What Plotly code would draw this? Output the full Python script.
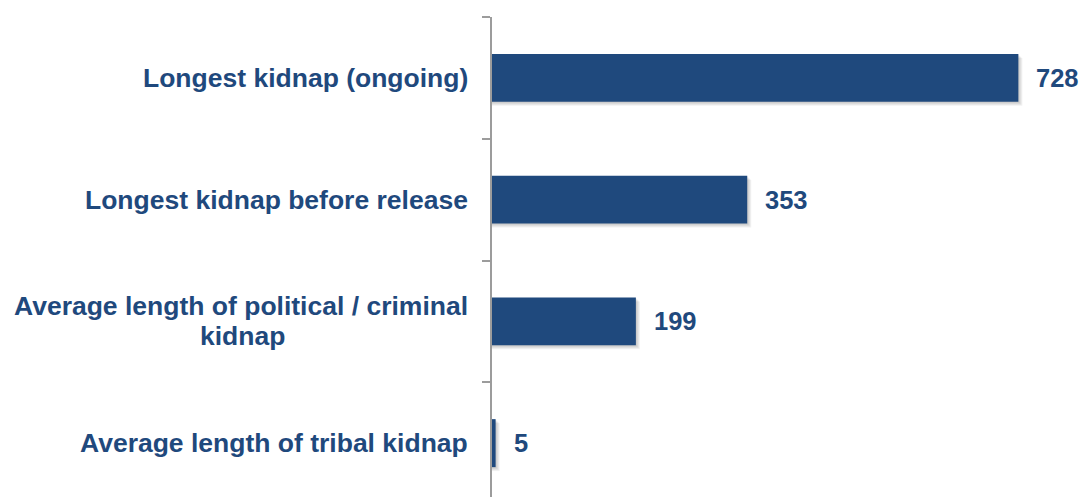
import plotly.graph_objects as go

# Kidnap durations (days), listed top to bottom
categories = [
    "Longest kidnap (ongoing)",
    "Longest kidnap before release",
    "Average length of political / criminal kidnap",
    "Average length of tribal kidnap",
]
label_lines = [
    ["Longest kidnap (ongoing)"],
    ["Longest kidnap before release"],
    ["Average length of political / criminal", "kidnap"],
    ["Average length of tribal kidnap"],
]
days = [728, 353, 199, 5]

BLUE = "#1F497D"
GREY = "#9C9C9C"
FONT = "Liberation Sans"

W, H = 1082, 497
ML, MT = 492, 17
X_MAX = 816
Y_RANGE = [-0.4425, 3.5]
BAR_W = 0.394

plot_w = W - ML
px_per_unit = plot_w / X_MAX
cat_px = (H - MT) / (Y_RANGE[1] - Y_RANGE[0])

fig = go.Figure()

# soft drop shadow under each bar (a few faint layers, shifted down/right)
for k in (1, 2, 3, 4):
    fig.add_trace(go.Bar(
        y=categories, x=[v + k / px_per_unit for v in days],
        orientation="h", width=BAR_W,
        offset=-BAR_W / 2 - k / cat_px,
        marker=dict(color="rgba(0,0,0,0.055)", line=dict(width=0)),
        hoverinfo="skip", showlegend=False,
    ))

fig.add_trace(go.Bar(
    y=categories, x=days, orientation="h", width=BAR_W,
    offset=-BAR_W / 2,
    marker=dict(color=BLUE, line=dict(width=0)),
    showlegend=False,
))

annotations = []
# value labels just past each bar end
for cat, v in zip(categories, days):
    annotations.append(dict(
        x=v, y=cat, xref="x", yref="y", text=str(v), showarrow=False,
        xanchor="left", yanchor="middle", xshift=16,
        font=dict(family=FONT, size=25.5, color=BLUE, weight="bold"),
    ))

# category labels to the left of the axis
LABEL_GAP = -22
label_font = dict(family=FONT, size=26.5, color=BLUE, weight="bold")
for cat, lines in zip(categories, label_lines):
    if len(lines) == 1:
        annotations.append(dict(
            x=0, y=cat, xref="x", yref="y", text=lines[0], showarrow=False,
            xanchor="right", yanchor="middle", xshift=LABEL_GAP,
            font=label_font,
        ))
    else:
        # two stacked lines, second one centred under the first
        annotations.append(dict(
            x=0, y=cat, xref="x", yref="y", text=lines[0], showarrow=False,
            xanchor="right", yanchor="middle", xshift=LABEL_GAP, yshift=15,
            font=label_font,
        ))
        annotations.append(dict(
            x=0, y=cat, xref="x", yref="y", text=lines[1], showarrow=False,
            xanchor="center", yanchor="middle", xshift=LABEL_GAP - 227.5,
            yshift=-15, font=label_font,
        ))

fig.update_layout(
    width=W, height=H,
    margin=dict(l=ML, r=0, t=MT, b=0, pad=0),
    paper_bgcolor="white", plot_bgcolor="white",
    barmode="overlay",
    annotations=annotations,
    xaxis=dict(range=[0, X_MAX], visible=False, fixedrange=True),
    yaxis=dict(
        type="category",
        categoryorder="array", categoryarray=categories[::-1],
        range=Y_RANGE,
        showticklabels=False,
        showgrid=False, zeroline=False,
        showline=True, linecolor=GREY, linewidth=1.5,
        ticks="outside", tickson="boundaries",
        ticklen=8, tickcolor=GREY, tickwidth=1.5,
        fixedrange=True,
    ),
)

fig.write_html("out.html")
